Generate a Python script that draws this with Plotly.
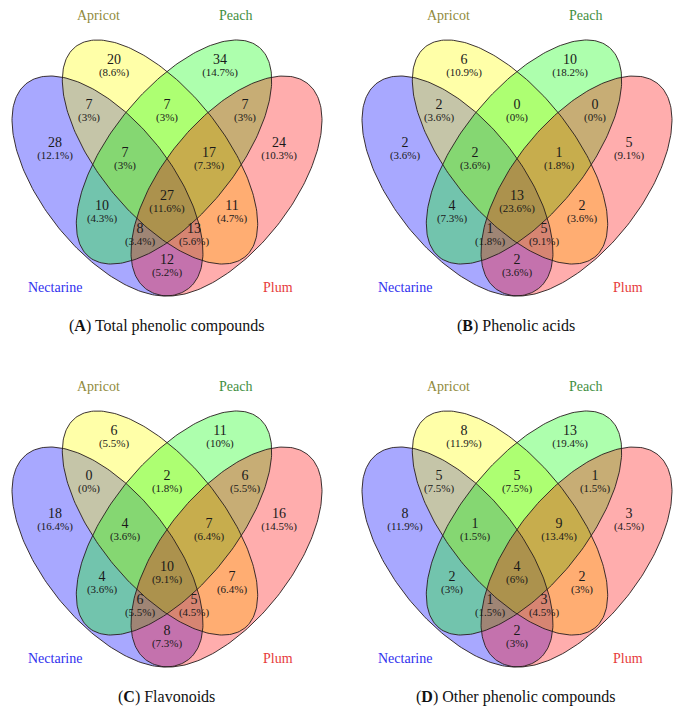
import numpy as np
import plotly.graph_objects as go

# ---------------- data ----------------
set_names = ["Nectarine", "Apricot", "Peach", "Plum"]
panel_titles = ["Total phenolic compounds", "Phenolic acids", "Flavonoids", "Other phenolic compounds"]
panel_letters = ["A", "B", "C", "D"]

# region keys (N=Nectarine, A=Apricot, P=Peach, L=Plum)
regions = ["N", "A", "P", "L", "NA", "AP", "PL", "NAP", "APL", "NP", "AL", "NAPL", "NPL", "NAL", "NL"]

counts_total     = [28, 20, 34, 24, 7, 7, 7, 7, 17, 10, 11, 27, 8, 13, 12]
counts_acids     = [2, 6, 10, 5, 2, 0, 0, 2, 1, 4, 2, 13, 1, 5, 2]
counts_flavonoid = [18, 6, 11, 16, 0, 2, 6, 4, 7, 4, 7, 10, 6, 5, 8]
counts_other     = [8, 8, 13, 3, 5, 5, 1, 1, 9, 2, 2, 4, 1, 3, 2]
all_counts = [counts_total, counts_acids, counts_flavonoid, counts_other]

# ---------------- layout / style ----------------
W, H = 677, 718
panel_offsets = [(0, 0), (350, 0), (0, 371), (350, 371)]
FONT = "Liberation Serif"

fill_cols = ["rgba(0,0,255,0.34)", "rgba(255,255,0,0.34)", "rgba(0,255,0,0.32)", "rgba(255,0,0,0.32)"]
name_cols = ["#3030ee", "#8f8a3c", "#3f8f3f", "#e63c3c"]

# ellipse geometry in panel pixel frame: cx, cy, a, b, angle (deg, y-down)
phiN = 51.65
phiA = 51.05
ellipses = [
    (107.5, 186, 130.7, 64.3, phiN),        # Nectarine
    (160.0, 152, 135.0, 62.2, phiA),        # Apricot
    (174.0, 152, 135.0, 62.2, 180 - phiA),  # Peach
    (226.5, 186, 130.7, 64.3, 180 - phiN),  # Plum
]

# centre of the count line for each region
label_pos = {
    "N": (55, 145), "A": (114, 62), "P": (220, 62), "L": (279, 145),
    "NA": (89, 107), "AP": (167, 107), "PL": (245, 107),
    "NAP": (125, 155), "APL": (209, 155),
    "NP": (102, 208), "AL": (232, 208),
    "NAPL": (167, 198), "NPL": (140, 231), "NAL": (194, 231), "NL": (167, 262),
}
name_pos = [(55, 287), (98, 15), (235, 15), (278, 287)]
caption_pos = (166, 326)


def fmt_pct(c, total):
    s = "%.1f" % (100.0 * c / total)
    if s.endswith(".0"):
        s = s[:-2]
    return "(" + s + "%)"


def ellipse_xy(cx, cy, a, b, ang, ox, oy, n=240):
    t = np.linspace(0, 2 * np.pi, n)
    p = np.deg2rad(ang)
    x = cx + a * np.cos(t) * np.cos(p) - b * np.sin(t) * np.sin(p)
    y = cy + a * np.cos(t) * np.sin(p) + b * np.sin(t) * np.cos(p)
    return x + ox, y + oy


fig = go.Figure()

for pi, (ox, oy) in enumerate(panel_offsets):
    counts = all_counts[pi]
    total = sum(counts)
    # fills
    for ei, (cx, cy, a, b, ang) in enumerate(ellipses):
        x, y = ellipse_xy(cx, cy, a, b, ang, ox, oy)
        fig.add_trace(go.Scatter(x=x, y=y, mode="lines", fill="toself",
                                 fillcolor=fill_cols[ei], line=dict(width=0),
                                 hoverinfo="skip", showlegend=False))
    # outlines
    for ei, (cx, cy, a, b, ang) in enumerate(ellipses):
        x, y = ellipse_xy(cx, cy, a, b, ang, ox, oy)
        fig.add_trace(go.Scatter(x=x, y=y, mode="lines",
                                 line=dict(width=1, color="rgba(40,30,30,0.9)"),
                                 hoverinfo="skip", showlegend=False))
    # counts and percentages as one two-line label per region
    xs = [label_pos[r][0] + ox for r in regions]
    ys = [label_pos[r][1] + oy + 6 for r in regions]
    texts = ["<span style='font-size:14px'>%d</span><br><span style='font-size:11px'>%s</span>"
             % (c, fmt_pct(c, total)) for c in counts]
    fig.add_trace(go.Scatter(x=xs, y=ys, mode="text", text=texts,
                             textposition="middle center",
                             textfont=dict(family=FONT, size=9.3, color="#1a1a1a"),
                             hoverinfo="skip", showlegend=False))
    # set names
    for si, nm in enumerate(set_names):
        fig.add_annotation(x=name_pos[si][0] + ox, y=name_pos[si][1] + oy, text=nm,
                           showarrow=False, font=dict(family=FONT, size=14, color=name_cols[si]),
                           xanchor="center", yanchor="middle")
    # caption
    fig.add_annotation(x=caption_pos[0] + ox, y=caption_pos[1] + oy,
                       text="(<b>" + panel_letters[pi] + "</b>) " + panel_titles[pi],
                       showarrow=False, font=dict(family=FONT, size=16, color="#111111"),
                       xanchor="center", yanchor="middle")

fig.update_layout(
    width=W, height=H, margin=dict(l=0, r=0, t=0, b=0),
    paper_bgcolor="white", plot_bgcolor="white",
    xaxis=dict(range=[0, W], visible=False, fixedrange=True),
    yaxis=dict(range=[H, 0], visible=False, fixedrange=True),
    showlegend=False,
)

fig.write_html("out.html",
               config={"displayModeBar": False, "staticPlot": True},
               post_script="document.body.style.margin='0';document.body.style.padding='0';")
